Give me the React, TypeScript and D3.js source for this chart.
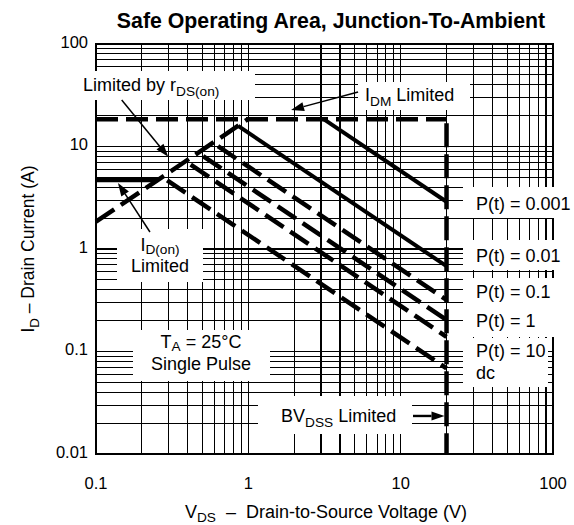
import { useEffect, useRef } from 'react';
import * as d3 from 'd3';

// axis ticks
const xTickLabels = [0.1, 1, 10, 100];
const yTickLabels = [0.01, 0.1, 1, 10, 100];

// limits
const bvDss = 20;        // V
const idmLimit = 18.4;   // A
const idOnLimit = 4.7;   // A
const rdsLine: [number, number][] = [[0.1, 1.85], [0.99, 18.4]];
const idOnLine: [number, number][] = [[0.1, idOnLimit], [0.254, idOnLimit]];

// single pulse curves: start point on the rDS / IDM limit, end current at BVDSS
const pulseLabels = ['P(t) = 0.001', 'P(t) = 0.01', 'P(t) = 0.1', 'P(t) = 1', 'P(t) = 10', 'dc'];
const pulseStart: [number, number][] = [
  [3.14, 18.4], [0.857, 15.9], [0.586, 10.85], [0.468, 8.67], [0.388, 7.18], [0.272, 5.04],
];
const pulseEndI = [2.89, 0.68, 0.318, 0.203, 0.139, 0.0686];
const pulseSolid = [true, true, false, false, false, false];

const W = 574;
const H = 525;
const FONT = '"Liberation Sans", Arial, Helvetica, sans-serif';

export default function App() {
  const svgRef = useRef<SVGSVGElement>(null);

  useEffect(() => {
    document.body.style.margin = '0';
    if (!svgRef.current) return;
    const svg = d3.select(svgRef.current);
    svg.selectAll('*').remove();

    const x = d3.scaleLog().domain([0.1, 100]).range([96, 553]);
    const y = d3.scaleLog().domain([0.01, 100]).range([454, 44]);
    const [x0, x1] = x.range();
    const [y0, y1] = y.range();

    svg.append('rect').attr('width', W).attr('height', H).attr('fill', '#fff');

    // grid, every 1..9 in each decade
    const grid = svg.append('g').attr('stroke', '#000').attr('stroke-width', 1.1)
      .attr('shape-rendering', 'crispEdges');
    x.ticks().forEach(v => {
      grid.append('line').attr('x1', x(v)).attr('x2', x(v)).attr('y1', y1).attr('y2', y0);
    });
    y.ticks().forEach(v => {
      grid.append('line').attr('x1', x0).attr('x2', x1).attr('y1', y(v)).attr('y2', y(v));
    });
    grid.append('rect').attr('x', x0).attr('y', y1).attr('width', x1 - x0).attr('height', y0 - y1)
      .attr('fill', 'none').attr('stroke-width', 1.4);

    // white boxes behind annotations
    const boxes = [
      [78, 71, 177, 29],    // Limited by rDS(on)
      [358, 82, 112, 28],   // IDM Limited
      [117, 229, 86, 53],   // ID(on) Limited
      [133, 330, 137, 51],  // TA / Single Pulse
      [463, 187, 111, 31],  // P 0.001
      [463, 240, 111, 30],  // P 0.01
      [463, 278, 111, 59],  // P 0.1, 1
      [463, 338, 85, 49],   // P 10, dc
      [258, 396, 154, 38],  // BVDSS Limited
    ];
    boxes.forEach(([bx, by, bw, bh]) => {
      svg.append('rect').attr('x', bx).attr('y', by).attr('width', bw).attr('height', bh).attr('fill', '#fff');
    });

    const line = d3.line<[number, number]>().x(d => x(d[0])).y(d => y(d[1]));
    const dash = '22 8';

    // limit lines
    svg.append('path').attr('d', line([[0.1, idmLimit], [bvDss, idmLimit]]))
      .attr('fill', 'none').attr('stroke', '#000').attr('stroke-width', 4.5).attr('stroke-dasharray', dash);
    svg.append('path').attr('d', line([[bvDss, idmLimit], [bvDss, 0.01]]))
      .attr('fill', 'none').attr('stroke', '#000').attr('stroke-width', 4.5).attr('stroke-dasharray', '24 7')
      .attr('stroke-dashoffset', -4);
    svg.append('path').attr('d', line(rdsLine))
      .attr('fill', 'none').attr('stroke', '#000').attr('stroke-width', 4.5).attr('stroke-dasharray', dash);
    svg.append('path').attr('d', line(idOnLine))
      .attr('fill', 'none').attr('stroke', '#000').attr('stroke-width', 4.3);

    // pulse curves
    pulseStart.forEach((s, i) => {
      const p = svg.append('path').attr('d', line([s, [bvDss, pulseEndI[i]]]))
        .attr('fill', 'none').attr('stroke', '#000').attr('stroke-width', pulseSolid[i] ? 4 : 4.5);
      if (!pulseSolid[i]) p.attr('stroke-dasharray', dash).attr('stroke-dashoffset', -6);
    });

    // text helper with subscript parts
    const label = (tx: number, ty: number, parts: [string, boolean][], size: number, anchor = 'start', sh = 0.27) => {
      const t = svg.append('text').attr('x', tx).attr('y', ty).attr('font-family', FONT)
        .attr('font-size', size).attr('fill', '#000').attr('text-anchor', anchor);
      parts.forEach(([s, sub], i) => {
        const prevSub = i > 0 && parts[i - 1][1];
        const ts = t.append('tspan').text(s);
        if (sub) ts.attr('font-size', size * 0.76).attr('dy', size * sh);
        else if (prevSub) ts.attr('dy', -size * sh);
      });
      return t;
    };

    // title
    svg.append('text').attr('x', 331).attr('y', 28).attr('text-anchor', 'middle')
      .attr('font-family', FONT).attr('font-weight', 'bold').attr('font-size', 21.3)
      .text('Safe Operating Area, Junction-To-Ambient');

    // tick labels
    xTickLabels.forEach(v => {
      svg.append('text').attr('x', x(v)).attr('y', 489).attr('text-anchor', 'middle')
        .attr('font-family', FONT).attr('font-size', 16.5).text(String(v));
    });
    yTickLabels.forEach(v => {
      svg.append('text').attr('x', 88).attr('y', y(v) + 3.5).attr('text-anchor', 'end')
        .attr('font-family', FONT).attr('font-size', 16.5).text(String(v));
    });

    // axis titles
    label(326, 518, [['V', false], ['DS', true], ['\u00A0\u00A0–\u00A0\u00A0Drain-to-Source Voltage (V)', false]], 18, 'middle', 0.22);
    label(0, 0, [['I', false], ['D', true], ['\u00A0– Drain Current (A)', false]], 17.5, 'middle')
      .attr('transform', `translate(34,${(y0 + y1) / 2}) rotate(-90)`);

    // annotations
    const fs = 18;
    label(83, 91, [['Limited by r', false], ['DS(on)', true]], fs);
    label(365, 101, [['I', false], ['DM', true], [' Limited', false]], fs);
    label(160, 250.5, [['I', false], ['D(on)', true]], fs, 'middle', 0.2);
    label(160, 272, [['Limited', false]], fs, 'middle');
    label(201, 347.5, [['T', false], ['A', true], [' = 25°C', false]], fs, 'middle', 0.2);
    label(201, 369.5, [['Single Pulse', false]], fs, 'middle');
    label(281, 422, [['BV', false], ['DSS', true], [' Limited', false]], fs);
    const pulseBaselines = [210, 261.5, 298, 326.5, 357, 379];
    pulseLabels.forEach((s, i) => label(476, pulseBaselines[i], [[s, false]], fs));

    // arrows (data coordinates)
    const arrows: [[number, number], [number, number]][] = [
      [[0.1475, 28.4], [0.298, 7.95]],
      [[5.25, 34.0], [1.907, 22.7]],
      [[0.226, 1.465], [0.1394, 4.4]],
      [[12.05, 0.0235], [19.4, 0.0235]],
    ];
    arrows.forEach(([a, b], i) => {
      const ax = x(a[0]), ay = y(a[1]), bx = x(b[0]), by = y(b[1]);
      const ang = Math.atan2(by - ay, bx - ax);
      const hl = 13, hw = 4.5;
      const baseX = bx - hl * Math.cos(ang), baseY = by - hl * Math.sin(ang);
      svg.append('line').attr('x1', ax).attr('y1', ay).attr('x2', baseX).attr('y2', baseY)
        .attr('stroke', '#000').attr('stroke-width', i === 3 ? 2.4 : 1.5);
      const nx = -Math.sin(ang) * hw, ny = Math.cos(ang) * hw;
      svg.append('path')
        .attr('d', `M${bx},${by}L${baseX + nx},${baseY + ny}L${baseX - nx},${baseY - ny}Z`)
        .attr('fill', '#000');
    });
  }, []);

  return <svg ref={svgRef} width={W} height={H} style={{ display: 'block' }} />;
}
